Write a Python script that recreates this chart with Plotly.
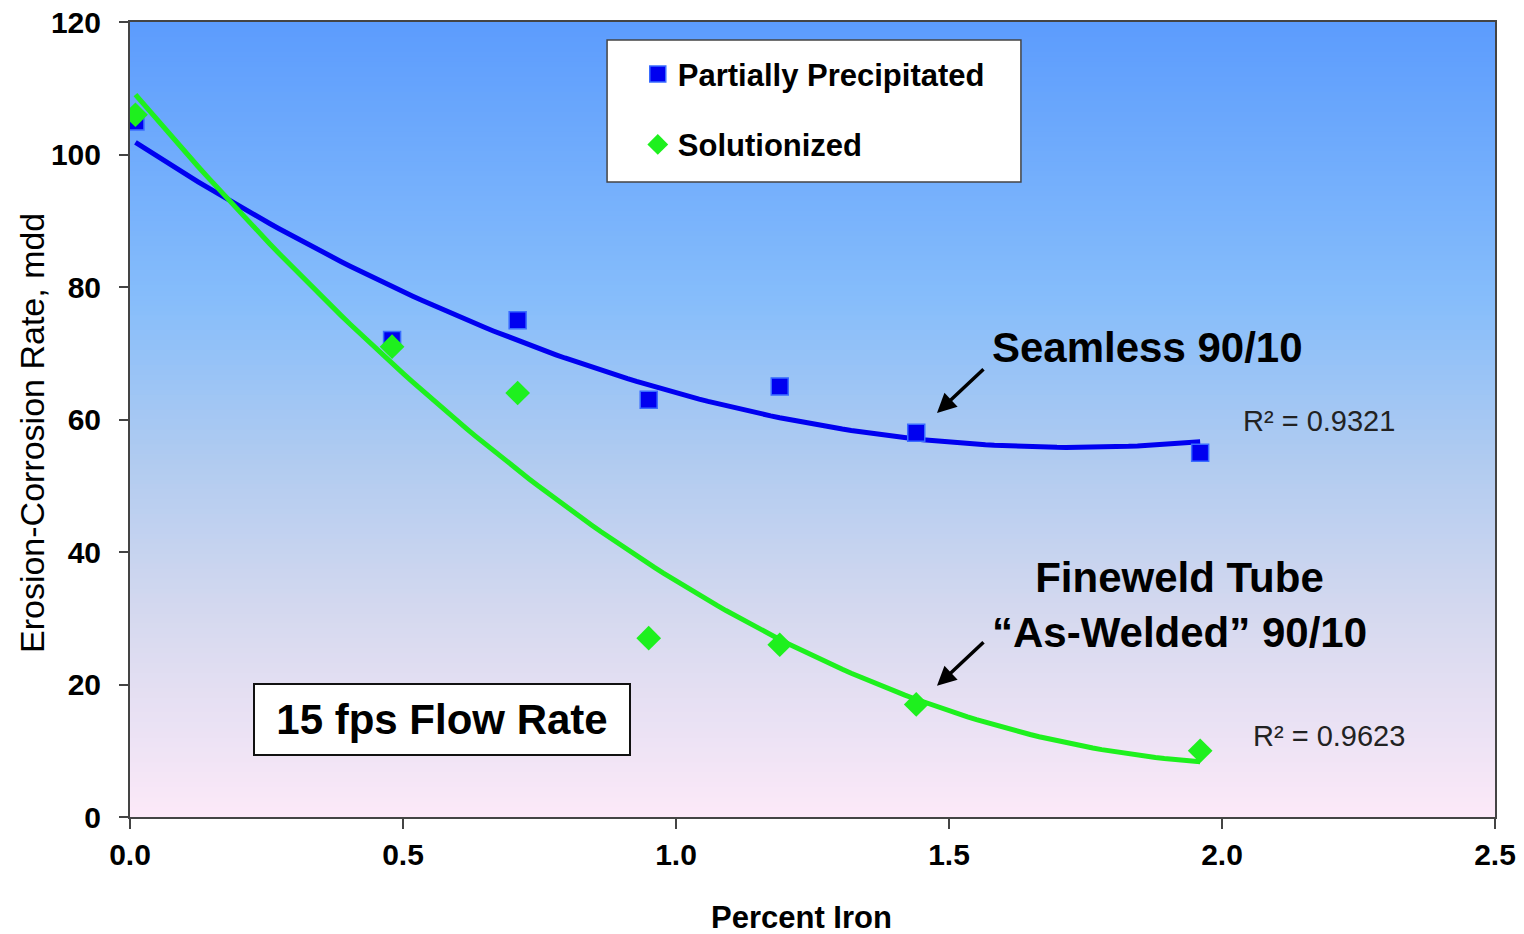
import numpy as np
import plotly.graph_objects as go

# ---- data ----
iron_pct = [0.01, 0.48, 0.71, 0.95, 1.19, 1.44, 1.96]
partially_precipitated = [105, 72, 75, 63, 65, 58, 55]
solutionized = [106, 71, 64, 27, 26, 17, 10]
x_ticks = [0.0, 0.5, 1.0, 1.5, 2.0, 2.5]
y_ticks = [0, 20, 40, 60, 80, 100, 120]
r2_labels = ["R² = 0.9321", "R² = 0.9623"]

BLUE = "#0000f0"
GREEN = "#1ef01e"
FONT = "Liberation Sans, Arial, sans-serif"


def poly2_trend(x, y, n=120):
    c = np.polyfit(x, y, 2)
    xs = np.linspace(min(x), max(x), n)
    return xs, np.polyval(c, xs)


fig = go.Figure()

# trendlines (2nd-order polynomial fits, like Excel)
bx, by = poly2_trend(iron_pct, partially_precipitated)
gx, gy = poly2_trend(iron_pct, solutionized)
fig.add_trace(go.Scatter(x=bx, y=by, mode="lines", line=dict(color=BLUE, width=5),
                         showlegend=False, hoverinfo="skip"))
fig.add_trace(go.Scatter(x=gx, y=gy, mode="lines", line=dict(color=GREEN, width=5),
                         showlegend=False, hoverinfo="skip"))

# markers
fig.add_trace(go.Scatter(x=iron_pct, y=partially_precipitated, mode="markers",
                         name="<b>Partially Precipitated</b>", legendgroup="a",
                         marker=dict(symbol="square", size=17, color=BLUE,
                                     line=dict(color="#3a6cff", width=1.5))))
fig.add_trace(go.Scatter(x=iron_pct, y=solutionized, mode="markers",
                         name="<b>Solutionized</b>", legendgroup="b",
                         marker=dict(symbol="diamond", size=19, color=GREEN,
                                     line=dict(color=GREEN, width=0))))

# gradient background of the plot area
stops = [(0.0, (252, 233, 248)), (0.25, (214, 217, 239)), (0.45, (176, 203, 240)),
         (0.65, (134, 189, 251)), (1.0, (92, 156, 253))]


def grad_color(t):
    for (t0, c0), (t1, c1) in zip(stops[:-1], stops[1:]):
        if t0 <= t <= t1:
            f = (t - t0) / (t1 - t0)
            c = [round(a + (b - a) * f) for a, b in zip(c0, c1)]
            return f"rgb({c[0]},{c[1]},{c[2]})"
    return "rgb(92,156,253)"


shapes = []
N = 160
for i in range(N):
    y0 = i / N
    y1 = (i + 1) / N + 0.002
    shapes.append(dict(type="rect", xref="x domain", yref="y domain", x0=0, x1=1,
                       y0=y0, y1=min(y1, 1), fillcolor=grad_color((i + 0.5) / N),
                       line=dict(width=0), layer="below"))

# legend box
shapes.append(dict(type="rect", xref="paper", yref="paper", x0=0.3495, x1=0.6527,
                   y0=0.7987, y1=0.9774, fillcolor="white",
                   line=dict(color="#444444", width=1.5), layer="below"))

annotations = [
    dict(x=1.575, y=70.9, xref="x", yref="y", text="<b>Seamless 90/10</b>", showarrow=False,
         xanchor="left", yanchor="middle", font=dict(size=42, color="black", family=FONT)),
    dict(x=1.923, y=32.0, xref="x", yref="y", text="<b>Fineweld Tube<br>“As-Welded” 90/10</b>",
         showarrow=False, xanchor="center", yanchor="middle", align="center",
         font=dict(size=42, color="black", family=FONT)),
    dict(x=2.035, y=59.8, xref="x", yref="y", text=r2_labels[0], showarrow=False,
         xanchor="left", yanchor="middle", font=dict(size=29, color="#222222", family=FONT)),
    dict(x=2.053, y=12.2, xref="x", yref="y", text=r2_labels[1], showarrow=False,
         xanchor="left", yanchor="middle", font=dict(size=29, color="#222222", family=FONT)),
    dict(x=0.572, y=14.7, xref="x", yref="y", text="<b>15 fps Flow Rate</b>", showarrow=False,
         xanchor="center", yanchor="middle", font=dict(size=42, color="black", family=FONT),
         bgcolor="white", bordercolor="#111111", borderwidth=2, borderpad=6,
         width=362, height=57),
    dict(x=1.478, y=61.0, xref="x", yref="y", text="", showarrow=True, ax=48, ay=-45,
         arrowhead=2, arrowsize=1.1, arrowwidth=3.5, arrowcolor="black", standoff=0),
    dict(x=1.478, y=19.8, xref="x", yref="y", text="", showarrow=True, ax=48, ay=-45,
         arrowhead=2, arrowsize=1.1, arrowwidth=3.5, arrowcolor="black", standoff=0),
    # axis titles
    dict(x=0.4916, y=-0.127, xref="paper", yref="paper", text="<b>Percent Iron</b>",
         showarrow=False, xanchor="center", yanchor="middle",
         font=dict(size=31, color="black", family=FONT)),
    dict(x=-0.0718, y=0.483, xref="paper", yref="paper", text="Erosion-Corrosion Rate, mdd",
         showarrow=False, xanchor="center", yanchor="middle", textangle=-90,
         font=dict(size=34, color="black", family=FONT)),
]

fig.update_layout(
    width=1524, height=934,
    margin=dict(l=130, r=29, t=22, b=117, autoexpand=False),
    paper_bgcolor="white", plot_bgcolor="rgba(0,0,0,0)",
    font=dict(family=FONT, color="black"),
    shapes=shapes, annotations=annotations,
    legend=dict(x=0.372, y=0.968, xanchor="left", yanchor="top",
                bgcolor="rgba(0,0,0,0)", borderwidth=0, traceorder="grouped",
                tracegroupgap=27, itemwidth=30,
                font=dict(size=31, color="black", family=FONT)),
    showlegend=True,
)
fig.update_xaxes(range=[0, 2.5], tickvals=x_ticks, ticktext=[f"<b>{v:.1f}</b>" for v in x_ticks],
                 ticks="outside", ticklen=10, tickcolor="#444444", tickwidth=1.5,
                 showline=True, linecolor="#444444", linewidth=2, mirror=True,
                 showgrid=False, zeroline=False, automargin=False,
                 tickfont=dict(size=30, color="black", family=FONT))
fig.update_yaxes(range=[0, 120], tickvals=y_ticks, ticktext=[f"<b>{v}</b>" for v in y_ticks],
                 ticks="outside", ticklen=9, tickcolor="#444444", tickwidth=1.5,
                 showline=True, linecolor="#444444", linewidth=2, mirror=True,
                 showgrid=False, zeroline=False, automargin=False, ticklabelstandoff=12,
                 tickfont=dict(size=30, color="black", family=FONT))

fig.write_html("out.html", config={"displayModeBar": False},
               post_script="document.body.style.margin='0px';")
